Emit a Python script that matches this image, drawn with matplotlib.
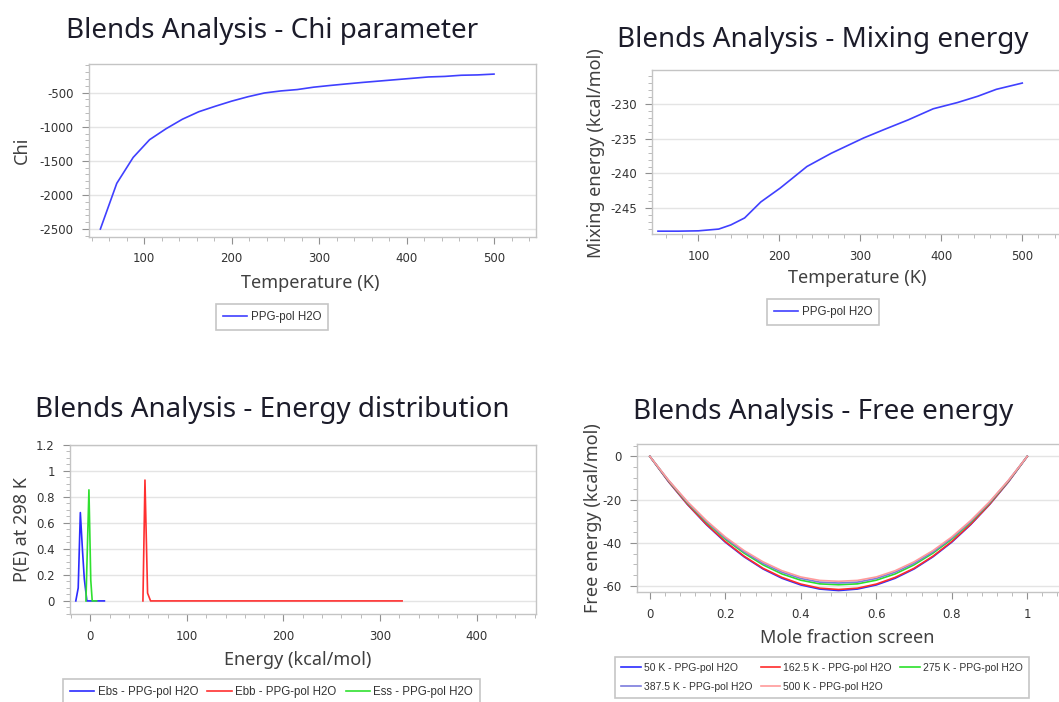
import matplotlib
matplotlib.use("Agg")
import matplotlib.pyplot as plt
from matplotlib.ticker import MultipleLocator, FuncFormatter

plt.rcParams["axes.unicode_minus"] = False
plt.rcParams["font.family"] = ["DejaVu Sans"]

# --- chi parameter vs temperature ---
chi_temp = [50, 68.75, 87.5, 106.25, 125, 143.75, 162.5, 181.25, 200, 218.75,
            237.5, 256.25, 275, 293.75, 312.5, 331.25, 350, 368.75, 387.5,
            406.25, 425, 443.75, 462.5, 481.25, 500]
chi_vals = [-2500, -1830, -1450, -1190, -1030, -890, -780, -700, -625, -560,
            -505, -475, -455, -420, -395, -372, -350, -330, -310, -290,
            -270, -262, -245, -240, -228]

# --- mixing energy vs temperature ---
mix_temp = [50, 75, 100, 125, 140, 157, 177, 201, 217, 234, 264, 304, 329,
            359, 390, 420, 445, 468, 500]
mix_vals = [-248.3, -248.3, -248.25, -248.0, -247.4, -246.4, -244.1, -242.1,
            -240.6, -239.0, -237.1, -234.9, -233.7, -232.3, -230.7, -229.8,
            -228.9, -227.9, -227.0]

# --- energy distributions at 298 K ---
ebs_e = [-15, -12.5, -10.3, -8, -6.2, -3.5, 0, 5, 10, 14.6]
ebs_p = [0, 0.1, 0.68, 0.38, 0.17, 0, 0, 0, 0, 0]
ebb_e = [54.5, 56.6, 59.3, 62.4, 100, 200, 322.8]
ebb_p = [0, 0.93, 0.06, 0, 0, 0, 0]
ess_e = [-4.5, -1.4, 0.5, 2, 4, 6.5]
ess_p = [0, 0.855, 0.16, 0, 0, 0]

# --- free energy vs mole fraction ---
mole_frac = [0, 0.05, 0.1, 0.15, 0.2, 0.25, 0.3, 0.35, 0.4, 0.45, 0.5,
             0.55, 0.6, 0.65, 0.7, 0.75, 0.8, 0.85, 0.9, 0.95, 1]
free_labels = ["50 K - PPG-pol H2O", "162.5 K - PPG-pol H2O", "275 K - PPG-pol H2O",
               "387.5 K - PPG-pol H2O", "500 K - PPG-pol H2O"]
free_50 = [0, -11.8, -22.3, -31.6, -39.7, -46.5, -52.1, -56.4, -59.5, -61.4, -62.1,
           -61.4, -59.5, -56.4, -52.1, -46.5, -39.7, -31.6, -22.3, -11.8, 0]
free_162 = [0, -11.7, -22.2, -31.4, -39.4, -46.2, -51.8, -56.0, -59.1, -61.0, -61.6,
            -61.0, -59.1, -56.0, -51.8, -46.2, -39.4, -31.4, -22.2, -11.7, 0]
free_275 = [0, -11.4, -21.6, -30.5, -38.3, -44.8, -50.2, -54.4, -57.3, -59.0, -59.4,
            -59.0, -57.3, -54.4, -50.2, -44.8, -38.3, -30.5, -21.6, -11.4, 0]
free_387 = [0, -11.2, -21.3, -30.1, -37.8, -44.2, -49.5, -53.6, -56.5, -58.2, -58.6,
            -58.2, -56.5, -53.6, -49.5, -44.2, -37.8, -30.1, -21.3, -11.2, 0]
free_500 = [0, -11.1, -21.0, -29.7, -37.3, -43.6, -48.8, -52.9, -55.8, -57.4, -57.8,
            -57.4, -55.8, -52.9, -48.8, -43.6, -37.3, -29.7, -21.0, -11.1, 0]
free_curves = [free_50, free_162, free_275, free_387, free_500]
free_colors = ["#2b2bff", "#ff2b2b", "#2be02b", "#7b7bdd", "#ff9a9a"]

W, H = 1059, 702
TITLE_FONT = ["Noto Sans", "DejaVu Sans"]
LEGEND_FONT = ["Liberation Sans", "DejaVu Sans"]


def rect(left, right, top, bottom):
    return [left / W, 1 - bottom / H, (right - left) / W, (bottom - top) / H]


def style_axes(ax, xmaj, xmin, ymaj, ymin):
    for sp in ax.spines.values():
        sp.set_color("#c4c4c4")
        sp.set_linewidth(1)
    ax.xaxis.set_major_locator(MultipleLocator(xmaj))
    ax.xaxis.set_minor_locator(MultipleLocator(xmin))
    ax.yaxis.set_major_locator(MultipleLocator(ymaj))
    ax.yaxis.set_minor_locator(MultipleLocator(ymin))
    ax.tick_params(which="major", length=5, color="#909090", labelsize=8.5,
                   labelcolor="#333333", pad=6)
    ax.tick_params(which="minor", length=3, color="#b0b0b0")
    ax.grid(axis="y", which="major", color="#e4e4e4", linewidth=1)
    ax.set_axisbelow(True)
    fmt = FuncFormatter(lambda v, _: "{:g}".format(round(v, 6)))
    ax.xaxis.set_major_formatter(fmt)
    ax.yaxis.set_major_formatter(fmt)


def labels(ax, title, title_xy, xlabel, xlabel_xy, ylabel, ylabel_xy):
    fig.text(title_xy[0] / W, 1 - title_xy[1] / H, title, ha="center", va="center",
             fontsize=20, color="#1c1c2a", family=TITLE_FONT)
    fig.text(xlabel_xy[0] / W, 1 - xlabel_xy[1] / H, xlabel, ha="center", va="center",
             fontsize=13, color="#404040", family=TITLE_FONT)
    fig.text(ylabel_xy[0] / W, 1 - ylabel_xy[1] / H, ylabel, ha="center", va="center",
             rotation=90, fontsize=13, color="#404040", family=TITLE_FONT)


def boxed_legend(handles, names, top_center, ncol=1, size=8.3, handlelength=2.1):
    leg = fig.legend(handles, names, loc="upper center",
                     bbox_to_anchor=(top_center[0] / W, 1 - top_center[1] / H),
                     ncol=ncol, frameon=True, fancybox=False, handlelength=handlelength,
                     handletextpad=0.3, columnspacing=0.8, borderpad=0.6,
                     labelspacing=0.85, borderaxespad=0,
                     prop={"family": LEGEND_FONT, "size": size})
    leg.get_frame().set_edgecolor("#b8b8b8")
    leg.get_frame().set_linewidth(1.2)
    for t in leg.get_texts():
        t.set_color("#333333")
    return leg


fig = plt.figure(figsize=(W / 100, H / 100), dpi=100)

# chi parameter
ax1 = fig.add_axes(rect(89, 536, 64, 237))
l1, = ax1.plot(chi_temp, chi_vals, color="#4040ff", lw=1.2)
ax1.set_xlim(37, 548)
ax1.set_ylim(-2617, -80)
style_axes(ax1, 100, 20, 500, 100)
labels(ax1, "Blends Analysis - Chi parameter", (272, 31), "Temperature (K)", (310, 283),
       "Chi", (22, 150))
boxed_legend([l1], ["PPG-pol H2O"], (272, 304))

# mixing energy
ax2 = fig.add_axes(rect(652, 1065, 69.5, 234.3))
l2, = ax2.plot(mix_temp, mix_vals, color="#4040ff", lw=1.2)
ax2.set_xlim(42.6, 552.8)
ax2.set_ylim(-248.75, -225.05)
style_axes(ax2, 100, 20, 5, 1)
labels(ax2, "Blends Analysis - Mixing energy", (823, 40), "Temperature (K)", (857, 278),
       "Mixing energy (kcal/mol)", (596, 153))
boxed_legend([l2], ["PPG-pol H2O"], (823, 299))

# energy distribution
ax3 = fig.add_axes(rect(70, 536, 445, 614.3))
h_ebs, = ax3.plot(ebs_e, ebs_p, color="#2b2bff", lw=1.2)
h_ebb, = ax3.plot(ebb_e, ebb_p, color="#ff3030", lw=1.2)
h_ess, = ax3.plot(ess_e, ess_p, color="#30e030", lw=1.2)
ax3.set_xlim(-21, 461.4)
ax3.set_ylim(-0.103, 1.2)
style_axes(ax3, 100, 20, 0.2, 0.05)
labels(ax3, "Blends Analysis - Energy distribution", (272, 410), "Energy (kcal/mol)", (298, 660),
       "P(E) at 298 K", (22, 529))
boxed_legend([h_ebs, h_ebb, h_ess],
             ["Ebs - PPG-pol H2O", "Ebb - PPG-pol H2O", "Ess - PPG-pol H2O"],
             (271.5, 679), ncol=3)

# free energy
ax4 = fig.add_axes(rect(637, 1065, 444.3, 592.3))
fh = []
for vals, c in zip(free_curves, free_colors):
    h, = ax4.plot(mole_frac, vals, color=c, lw=1.2)
    fh.append(h)
ax4.set_xlim(-0.034, 1.1)
ax4.set_ylim(-62.9, 5.6)
style_axes(ax4, 0.2, 0.04, 20, 5)
labels(ax4, "Blends Analysis - Free energy", (823, 412), "Mole fraction screen", (847, 638),
       "Free energy (kcal/mol)", (593, 518))
order = [0, 3, 1, 4, 2]
boxed_legend([fh[i] for i in order], [free_labels[i] for i in order],
             (822, 656.5), ncol=3, size=7.5, handlelength=1.9)

fig.savefig("out.png", dpi=100)
